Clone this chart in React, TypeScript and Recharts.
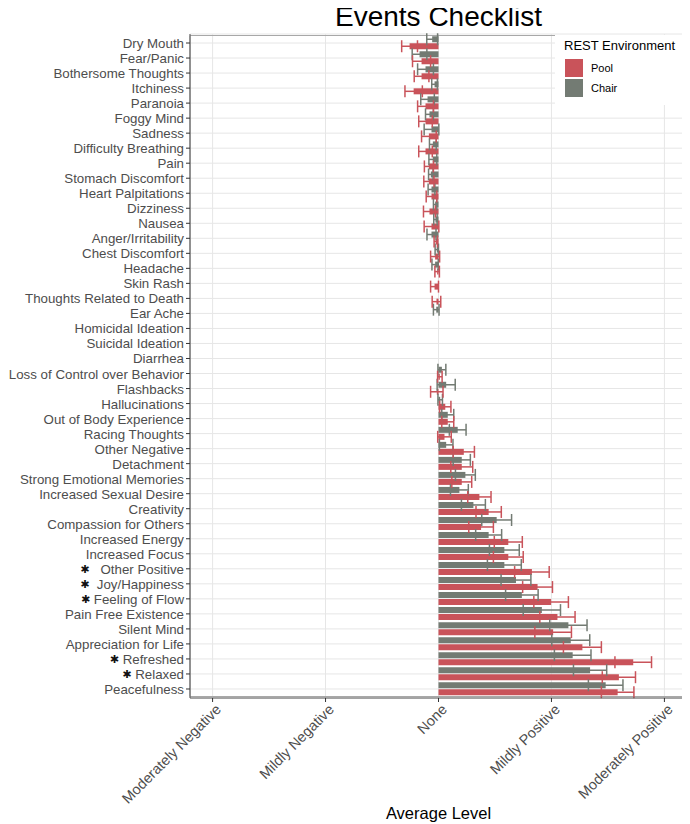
import React from 'react';
import { BarChart, Bar, XAxis, YAxis, CartesianGrid, ErrorBar, ReferenceArea } from 'recharts';

const categories = [
  'Dry Mouth', 'Fear/Panic', 'Bothersome Thoughts', 'Itchiness', 'Paranoia', 'Foggy Mind', 'Sadness',
  'Difficulty Breathing', 'Pain', 'Stomach Discomfort', 'Heart Palpitations', 'Dizziness', 'Nausea',
  'Anger/Irritability', 'Chest Discomfort', 'Headache', 'Skin Rash', 'Thoughts Related to Death', 'Ear Ache',
  'Homicidal Ideation', 'Suicidal Ideation', 'Diarrhea', 'Loss of Control over Behavior', 'Flashbacks',
  'Hallucinations', 'Out of Body Experience', 'Racing Thoughts', 'Other Negative', 'Detachment',
  'Strong Emotional Memories', 'Increased Sexual Desire', 'Creativity', 'Compassion for Others',
  'Increased Energy', 'Increased Focus', '✱   Other Positive', '✱  Joy/Happiness', '✱ Feeling of Flow',
  'Pain Free Existence', 'Silent Mind', 'Appreciation for Life', '✱ Refreshed', '✱ Relaxed', 'Peacefulness',
];

const chairMean = [
  -0.056, -0.168, -0.115, -0.035, -0.097, -0.08, -0.062, -0.05, -0.05, -0.068, -0.062, -0.03, -0.027,
  -0.062, -0.015, -0.03, 0, 0, -0.02, 0, 0, 0, 0.03, 0.068, 0.015, 0.082, 0.17, 0.068, 0.206, 0.238,
  0.185, 0.309, 0.515, 0.444, 0.583, 0.583, 0.686, 0.738, 0.915, 1.15, 1.171, 1.188, 1.342, 1.48,
];
const chairSE = [
  0.048, 0.065, 0.07, 0.025, 0.06, 0.035, 0.065, 0.03, 0.035, 0.02, 0.03, 0.015, 0.015,
  0.04, 0.015, 0.028, 0, 0.025, 0.025, 0, 0, 0, 0.035, 0.08, 0.02, 0.053, 0.074, 0.06, 0.076, 0.088,
  0.079, 0.106, 0.132, 0.115, 0.132, 0.15, 0.132, 0.144, 0.165, 0.165, 0.168, 0.162, 0.147, 0.153,
];
const poolMean = [
  -0.256, -0.15, -0.15, -0.22, -0.115, -0.115, -0.085, -0.115, -0.085, -0.085, -0.062, -0.08, -0.062,
  -0.024, -0.03, -0.012, -0.035, -0.018, 0, 0, 0, 0, 0.012, -0.015, 0.06, 0.082, 0.053, 0.224, 0.206, 0.206,
  0.362, 0.444, 0.377, 0.618, 0.618, 0.827, 0.877, 0.997, 1.053, 1.015, 1.274, 1.724, 1.597, 1.586,
];
const poolSE = [
  0.07, 0.08, 0.065, 0.077, 0.07, 0.06, 0.065, 0.06, 0.04, 0.045, 0.047, 0.053, 0.065,
  0.015, 0.04, 0.02, 0.035, 0.038, 0, 0, 0, 0, 0.02, 0.055, 0.05, 0.053, 0.06, 0.094, 0.097, 0.088,
  0.103, 0.112, 0.109, 0.124, 0.132, 0.153, 0.132, 0.153, 0.156, 0.162, 0.168, 0.162, 0.147, 0.144,
];

const xTickValues = [-2, -1, 0, 1, 2];
const xTickLabels = ['Moderately Negative', 'Mildly Negative', 'None', 'Mildly Positive', 'Moderately Positive'];
const seriesNames = ['Pool', 'Chair'];

const POOL = '#C9535A';
const CHAIR = '#737B73';
const FONT = '"Liberation Sans", Arial, Helvetica, sans-serif';

const data = categories.map((c, i) => ({
  category: c,
  chair: chairMean[i],
  chairSE: chairSE[i],
  pool: poolMean[i],
  poolSE: poolSE[i],
}));

const YTick = (props: any) => {
  const { x, y, payload } = props;
  const v: string = payload.value;
  const star = v.startsWith('✱');
  const rest = star ? v.slice(1) : v;
  return (
    <text
      x={x}
      y={y}
      textAnchor="end"
      dominantBaseline="central"
      fontSize={13.3}
      fill="#4d4d4d"
      fontFamily={FONT}
      style={{ whiteSpace: 'pre' }}
    >
      {star && (
        <tspan fill="#111" fontSize={11} fontFamily="DejaVu Sans">
          ✱
        </tspan>
      )}
      <tspan>{rest}</tspan>
    </text>
  );
};

const XTick = (props: any) => {
  const { x, y, payload } = props;
  const idx = xTickValues.indexOf(payload.value);
  return (
    <g transform={`translate(${x + 2},${y - 1})`}>
      <text
        textAnchor="end"
        transform="rotate(-45)"
        dy="0.72em"
        fontSize={14.5}
        fill="#4d4d4d"
        fontFamily={FONT}
      >
        {xTickLabels[idx]}
      </text>
    </g>
  );
};

export default function App() {
  return (
    <div style={{ position: 'relative', width: 682, height: 816, fontFamily: FONT }}>
      <BarChart
        width={682}
        height={816}
        data={data}
        layout="vertical"
        margin={{ top: 26, right: 3, bottom: 26, left: 2 }}
        barCategoryGap="5%"
        barGap={1}
      >
        <CartesianGrid stroke="#e6e6e6" strokeWidth={1} />
        <XAxis
          type="number"
          domain={[-2.2, 2.2]}
          ticks={xTickValues}
          interval={0}
          allowDataOverflow
          height={100}
          tickSize={4}
          tick={<XTick />}
          axisLine={{ stroke: '#555' }}
          tickLine={{ stroke: '#333' }}
        />
        <YAxis
          type="category"
          dataKey="category"
          width={180}
          interval={0}
          tickSize={4}
          tick={<YTick />}
          padding={{ top: 1.5, bottom: 1.5 }}
          axisLine={{ stroke: '#555' }}
          tickLine={{ stroke: '#333' }}
        />
        <ReferenceArea x1={-2.2} x2={2.2} fill="none" stroke="#a8a8a8" strokeWidth={1} ifOverflow="visible" />
        <Bar dataKey="chair" name={seriesNames[1]} fill={CHAIR} isAnimationActive={false}>
          <ErrorBar dataKey="chairSE" direction="x" width={6} stroke={CHAIR} strokeWidth={1.5} isAnimationActive={false} />
        </Bar>
        <Bar dataKey="pool" name={seriesNames[0]} fill={POOL} isAnimationActive={false}>
          <ErrorBar dataKey="poolSE" direction="x" width={6} stroke={POOL} strokeWidth={1.5} isAnimationActive={false} />
        </Bar>
      </BarChart>

      <div
        style={{
          position: 'absolute',
          left: 182,
          width: 497,
          top: -5,
          textAlign: 'center',
          fontSize: 28,
          lineHeight: '28px',
          color: '#000',
        }}
      >
        Events Checklist
      </div>

      <div
        style={{
          position: 'absolute',
          left: 182,
          width: 497,
          top: 795,
          textAlign: 'center',
          fontSize: 16.5,
          lineHeight: '20px',
          color: '#000',
        }}
      >
        Average Level
      </div>

      <div
        style={{
          position: 'absolute',
          left: 547,
          top: 27,
          width: 131,
          height: 70,
          background: '#fff',
        }}
      >
        <div style={{ position: 'absolute', left: 9, top: 3, fontSize: 13, lineHeight: '16px', color: '#000', whiteSpace: 'nowrap' }}>
          REST Environment
        </div>
        {[POOL, CHAIR].map((col, i) => (
          <div key={i} style={{ position: 'absolute', left: 10, top: 24 + i * 20, height: 18, display: 'flex', alignItems: 'center' }}>
            <div style={{ width: 18, height: 18, background: col }} />
            <div style={{ marginLeft: 8, fontSize: 11, color: '#000' }}>{seriesNames[i]}</div>
          </div>
        ))}
      </div>
    </div>
  );
}
